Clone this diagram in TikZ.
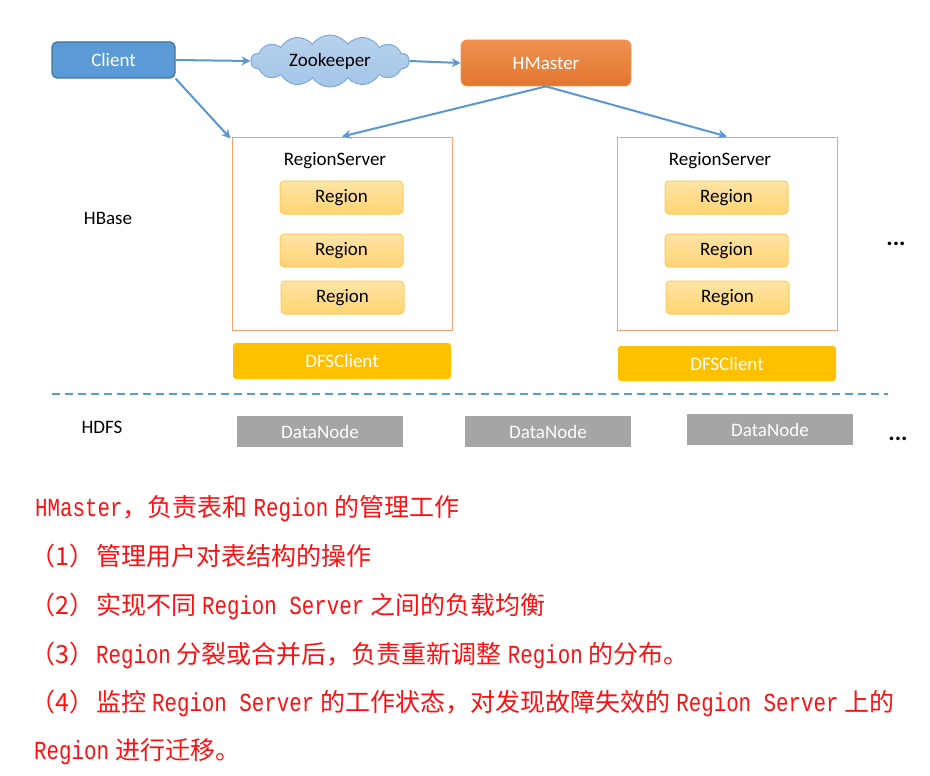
\documentclass[tikz,border=0pt]{standalone}
\usepackage{fontspec}
\setmainfont{Carlito}
\newfontfamily\cjk{Noto Sans CJK SC}
\newfontfamily\mono[FakeStretch=0.8]{Liberation Mono}
\usetikzlibrary{shapes.symbols,arrows.meta}
\definecolor{cblue}{HTML}{5B9BD5}
\definecolor{cblueborder}{HTML}{41719C}
\definecolor{zkfill}{HTML}{A4C6E8}
\definecolor{zkborder}{HTML}{7FA8D8}
\definecolor{horange}{HTML}{ED7D31}
\definecolor{rsborder}{HTML}{EFA374}
\definecolor{regtop}{HTML}{FFE4A6}
\definecolor{regbot}{HTML}{FFD473}
\definecolor{regborder}{HTML}{FFCB5C}
\definecolor{dfs}{HTML}{FFC000}
\definecolor{dn}{HTML}{A5A5A5}
\definecolor{arrowc}{HTML}{5A96CF}
\definecolor{txtred}{HTML}{FF1010}
\newcommand{\zh}[1]{{\cjk #1}}
\newcommand{\en}[1]{{\mono\fontsize{26}{28}\selectfont #1}}
\newcommand{\gp}{\hspace{6pt}}
\newcommand{\pk}{\hspace{2pt}}
\tikzset{
  lbl/.style={font=\fontsize{19}{22}\selectfont, inner sep=0pt},
  clientbox/.style={draw=cblueborder, line width=1.2pt, fill=cblue, rounded corners=5pt, minimum width=123pt, minimum height=36pt, text=white, lbl},
  zkcloud/.style={cloud, cloud puffs=14, cloud puff arc=110, aspect=3.1, draw=zkborder, line width=1pt, top color=zkfill!80!white, bottom color=zkfill, minimum width=158pt, minimum height=52pt, inner sep=0pt, text=black, lbl},
  hmbox/.style={draw=horange!80!white, line width=0.8pt, top color=horange!85!white, bottom color=horange!95!black, rounded corners=6pt, minimum width=170pt, minimum height=46pt, text=white, lbl},
  rsbox/.style={draw=rsborder, line width=1pt, minimum width=220pt, minimum height=193pt, inner sep=0pt},
  regbox/.style={draw=regborder, line width=1pt, top color=regtop, bottom color=regbot, rounded corners=4pt, minimum width=123pt, minimum height=33pt, text=black, lbl},
  dfsbox/.style={fill=dfs, rounded corners=3pt, minimum width=218pt, minimum height=36pt, text=white, lbl},
  dnbox/.style={fill=dn, minimum width=166pt, minimum height=31pt, text=white, lbl},
  dotslbl/.style={anchor=base, inner sep=0pt, font=\fontsize{24}{26}\selectfont\bfseries},
  conn/.style={draw=arrowc, line width=2pt, -{Stealth[length=9pt,width=9pt,inset=3pt]}},
  cnline/.style={anchor=base west, inner sep=0pt, text=txtred, font=\fontsize{25}{28}\selectfont},
}
\begin{document}
\begin{tikzpicture}[x=1pt,y=-1pt]
\useasboundingbox (0,0) rectangle (930,776);
% top row
\node[clientbox] (client) at (113.5,60) {Client};
\node[zkcloud] (zk) at (330,61) {Zookeeper};
\node[hmbox] (hm) at (546,63) {HMaster};
% region servers
\node[rsbox] (rs1) at (342,233.5) {};
\node[lbl] (rs1t) at (335,161) {RegionServer};
\node[regbox] (r11) at (341.5,197.5) {Region};
\node[regbox] (r12) at (341.5,250.5) {Region};
\node[regbox] (r13) at (342.5,297.5) {Region};
\node[dfsbox] (dfs1) at (342,361) {DFSClient};
\node[rsbox] (rs2) at (727,233.5) {};
\node[lbl] (rs2t) at (720,161) {RegionServer};
\node[regbox] (r21) at (726.5,197.5) {Region};
\node[regbox] (r22) at (726.5,250.5) {Region};
\node[regbox] (r23) at (727.5,297.5) {Region};
\node[dfsbox, minimum height=35pt] (dfs2) at (727,363.5) {DFSClient};
\node[lbl] (hbase) at (108,218) {HBase};
\node[dotslbl] (dots1) at (896,245) {...};
% separator
\coordinate (sepl) at (52,394);
\coordinate (sepr) at (888,394);
\draw[cblue, line width=2.2pt, dash pattern=on 8pt off 5pt] (sepl) -- (sepr);
% HDFS
\node[lbl] (hdfs) at (102,427) {HDFS};
\node[dnbox] (dn1) at (320,431.5) {DataNode};
\node[dnbox] (dn2) at (548,431.5) {DataNode};
\node[dnbox] (dn3) at (770,429.5) {DataNode};
\node[dotslbl] (dots2) at (898,440) {...};
% connectors
\draw[conn] (client.east) -- (zk.west);
\draw[conn] (zk.east) -- (hm.west);
\draw[conn] (client.south east) -- ([xshift=-1pt,yshift=-2pt]rs1.north west);
\draw[conn] (hm.south) -- (rs1.north);
\draw[conn] (hm.south) -- (rs2.north);
% text
\node[cnline] (l1) at (35,516) {\en{HMaster}\zh{，负责表和}\gp\en{Region}\gp\zh{的管理工作}};
\node[cnline] (l2) at (30,565) {\zh{（1）}\pk\zh{管理用户对表结构的操作}};
\node[cnline] (l3) at (30,614) {\zh{（2）}\pk\zh{实现不同}\gp\en{Region Server}\gp\zh{之间的负载均衡}};
\node[cnline] (l4) at (30,663) {\zh{（3）}\pk\en{Region}\gp\zh{分裂或合并后，负责重新调整}\gp\en{Region}\gp\zh{的分布。}};
\node[cnline] (l5) at (30,711) {\zh{（4）}\pk\zh{监控}\gp\en{Region Server}\gp\zh{的工作状态，对发现故障失效的}\gp\en{Region Server}\gp\zh{上的}};
\node[cnline] (l6) at (34,759) {\en{Region}\gp\zh{进行迁移。}};
\end{tikzpicture}
\end{document}
